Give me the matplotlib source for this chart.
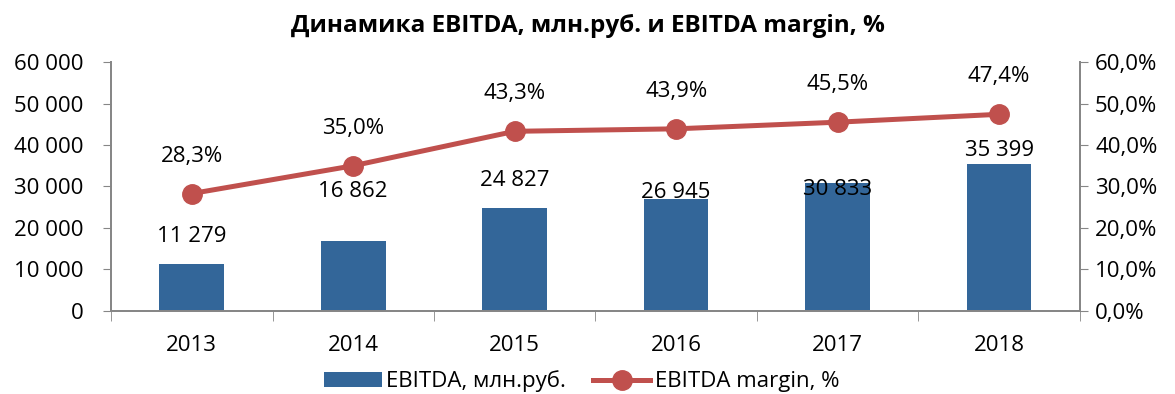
import matplotlib
matplotlib.use("Agg")
import matplotlib.pyplot as plt
from matplotlib.lines import Line2D
from matplotlib.patches import Patch
from matplotlib.ticker import FuncFormatter
import numpy as np

plt.rcParams["font.family"] = ["Open Sans", "DejaVu Sans"]

years = ["2013", "2014", "2015", "2016", "2017", "2018"]
ebitda = [11279, 16862, 24827, 26945, 30833, 35399]
margin = [28.3, 35.0, 43.3, 43.9, 45.5, 47.4]

BAR_COLOR = "#336699"
LINE_COLOR = "#C0504D"
SPINE_COLOR = "#868686"
FS = 16

# vertical nudges (points) for the bar value labels so they clear the line
bar_label_dy = [20, 36, 20, 5, -5, 10]


def space_thousands(v, _pos=None):
    return f"{int(round(v)):,}".replace(",", " ")


def pct(v, _pos=None):
    return f"{v:.1f}%".replace(".", ",")


fig = plt.figure(figsize=(11.75, 3.94), dpi=100)
ax = fig.add_axes([0.0945, 0.2107, 0.8245, 0.6319])
ax2 = ax.twinx()

x = np.arange(len(years))
ax.bar(x, ebitda, width=0.4, color=BAR_COLOR, zorder=2)
ax.set_xlim(-0.5, len(years) - 0.5)
ax.set_ylim(0, 60000)
ax.set_yticks(np.arange(0, 60001, 10000))
ax.yaxis.set_major_formatter(FuncFormatter(space_thousands))

ax2.plot(x, margin, color=LINE_COLOR, lw=3.6, marker="o", ms=14, zorder=3)
ax2.set_ylim(0, 60)
ax2.set_yticks(np.arange(0, 61, 10))
ax2.yaxis.set_major_formatter(FuncFormatter(pct))

for xi, v, dy in zip(x, ebitda, bar_label_dy):
    ax.annotate(space_thousands(v), (xi, v), xytext=(0, dy),
                textcoords="offset points", ha="center", va="center",
                fontsize=FS, zorder=4)
for xi, v in zip(x, margin):
    ax2.annotate(pct(v), (xi, v), xytext=(0, 27),
                 textcoords="offset points", ha="center", va="center",
                 fontsize=FS)

# category boundary ticks on the x axis, labels centred between them
ax.set_xticks(x)
ax.set_xticklabels(years, fontsize=FS)
ax.tick_params(axis="x", length=0, pad=17)
ax.set_xticks(np.arange(-0.5, len(years) + 0.5, 1), minor=True)
ax.tick_params(axis="x", which="minor", length=7, color=SPINE_COLOR,
               direction="out")

for a in (ax, ax2):
    a.spines["top"].set_visible(False)
    for side in ("left", "right", "bottom"):
        a.spines[side].set_color(SPINE_COLOR)
        a.spines[side].set_linewidth(1.3)
    a.tick_params(axis="y", length=6, color=SPINE_COLOR, labelsize=FS,
                  direction="out")
ax.tick_params(axis="y", pad=14)
ax2.tick_params(axis="y", pad=5)
ax2.patch.set_visible(False)
ax2.set_zorder(ax.get_zorder() + 1)

fig.suptitle("Динамика EBITDA, млн.руб. и EBITDA margin, %",
             x=0.5, y=0.965, fontsize=17.5, fontweight="bold")

handles = [
    Patch(facecolor=BAR_COLOR, label="EBITDA, млн.руб."),
    Line2D([], [], color=LINE_COLOR, lw=3.6, marker="o", ms=14,
           label="EBITDA margin, %"),
]
fig.legend(handles=handles, loc="center", bbox_to_anchor=(0.495, 0.032),
           ncol=2, frameon=False, fontsize=FS, handlelength=2.6,
           handletextpad=0.2, columnspacing=1.2)

fig.savefig("out.png", dpi=100)
